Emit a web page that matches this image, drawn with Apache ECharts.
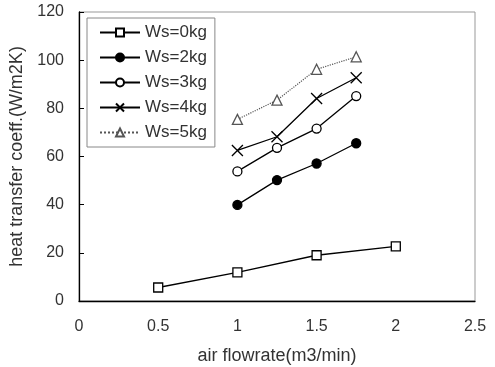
<!DOCTYPE html>
<html><head><meta charset="utf-8">
<script src="https://cdn.jsdelivr.net/npm/echarts@6/dist/echarts.min.js"></script>
<style>html,body{margin:0;padding:0;background:#fff}#c{width:495px;height:367px}</style>
</head><body><div id="c"></div>
<script>
const seriesNames = ['Ws=0kg','Ws=2kg','Ws=3kg','Ws=4kg','Ws=5kg'];
const ws0 = [[0.5,5.6],[1,11.9],[1.5,19.0],[2,22.7]];
const ws2 = [[1,39.9],[1.25,50.2],[1.5,57.1],[1.75,65.5]];
const ws3 = [[1,53.8],[1.25,63.6],[1.5,71.6],[1.75,85.1]];
const ws4 = [[1,62.5],[1.25,68.2],[1.5,84.1],[1.75,92.7]];
const ws5 = [[1,75.4],[1.25,83.4],[1.5,96.2],[1.75,101.4]];
const xTitle = 'air flowrate(m3/min)';
const yTitle = 'heat transfer coeff.(W/m2K)';

const font = 'Liberation Sans, Arial, sans-serif';
const txt = '#333';
const cross = 'path://M0,0L10,10M10,0L0,10';
function mk(name, data, symbol, fill, lineType, lineColor, size){
  return {name, type:'line', data, symbol, symbolSize:size,
    lineStyle:{color:lineColor, width: lineType==='dotted'?1.2:1.3, type:lineType},
    itemStyle:{color:fill, borderColor:lineColor, borderWidth:1.3},
    emphasis:{disabled:true}, z: 3};
}
const chart = echarts.init(document.getElementById('c'));
chart.setOption({
  animation:false,
  backgroundColor:'#fff',
  grid:{left:79, right:20, top:12, bottom:66, show:true, borderColor:'#999', borderWidth:1,
        containLabel:false, outerBoundsMode:'none'},
  legend:{
    orient:'vertical', left:87, top:18, width:125,
    borderColor:'#888', borderWidth:1, padding:[6,8,6,12],
    itemWidth:40, itemHeight:10, itemGap:8,
    textStyle:{fontFamily:font, fontSize:17, color:txt},
    data: seriesNames
  },
  xAxis:{type:'value', min:0, max:2.5, interval:0.5,
    name:xTitle, nameLocation:'middle', nameGap:46,
    nameTextStyle:{fontFamily:font, fontSize:18, color:txt},
    axisLine:{lineStyle:{color:'#000', width:1.3}},
    axisTick:{show:false},
    axisLabel:{fontFamily:font, fontSize:16, color:txt, margin:18},
    splitLine:{show:false}},
  yAxis:{type:'value', min:0, max:120, interval:20,
    name:yTitle, nameLocation:'middle', nameGap:49,
    nameTextStyle:{fontFamily:font, fontSize:18, color:txt},
    axisLine:{show:true, lineStyle:{color:'#000', width:1.3}},
    axisTick:{show:true, inside:true, length:5, lineStyle:{color:'#000'}},
    axisLabel:{fontFamily:font, fontSize:16, color:txt, margin:15},
    splitLine:{show:false}},
  series:[
    mk(seriesNames[0], ws0, 'rect', '#fff', 'solid', '#000', 9),
    mk(seriesNames[1], ws2, 'circle', '#000', 'solid', '#000', 9),
    mk(seriesNames[2], ws3, 'circle', '#fff', 'solid', '#000', 9),
    mk(seriesNames[3], ws4, cross, 'none', 'solid', '#000', 11),
    mk(seriesNames[4], ws5, 'triangle', '#fff', 'dotted', '#555', 10)
  ]
});
</script></body></html>
